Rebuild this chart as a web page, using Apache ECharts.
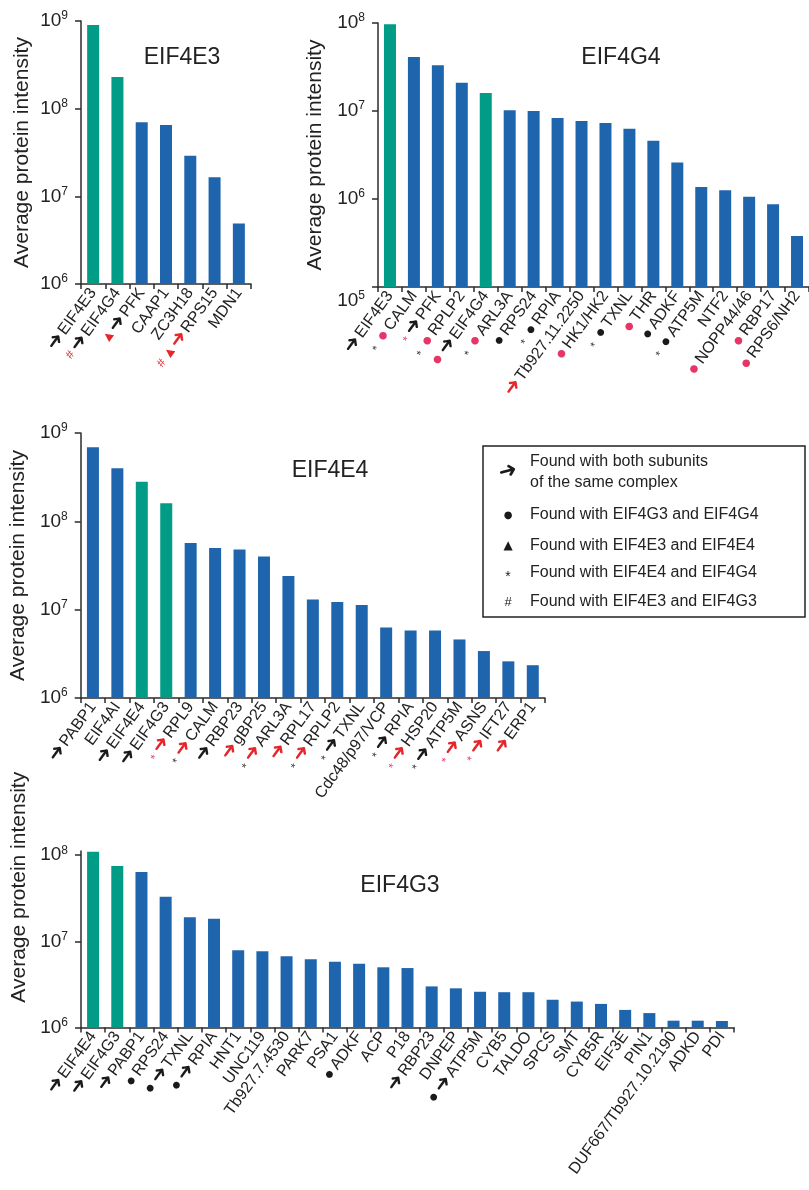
<!DOCTYPE html>
<html>
<head>
<meta charset="utf-8">
<script src="https://cdn.jsdelivr.net/npm/echarts@6/dist/echarts.min.js"></script>
<style>
  html, body { margin: 0; padding: 0; background: #fff; }
  #chart { width: 809px; height: 1190px; }
</style>
</head>
<body>
<div id="chart"></div>
<script>
// ---- EIF4E3 pull-down ----
const e3Cats  = ['EIF4E3', 'EIF4G4', 'PFK', 'CAAP1', 'ZC3H18', 'RPS15', 'MDN1'];
const e3Vals  = [9.0e8, 2.3e8, 7.0e7, 6.5e7, 2.9e7, 1.65e7, 4.9e6];
const e3Baits = ['EIF4E3', 'EIF4G4'];
const e3Marks = ['aK', 'hR aK', 'tR aK', '', '', 'hR tR aR', ''];

// ---- EIF4G4 pull-down ----
const g4Cats  = ['EIF4E3', 'CALM', 'PFK', 'RPLP2', 'EIF4G4', 'ARL3A', 'RPS24', 'RPIA',
                 'Tb927.11.2250', 'HK1/HK2', 'TXNL', 'THR', 'ADKF', 'ATP5M', 'NTF2',
                 'NOPP44/46', 'RBP17', 'RPS6/NH2'];
const g4Vals  = [9.7e7, 4.1e7, 3.3e7, 2.1e7, 1.6e7, 1.02e7, 1.0e7, 8.3e6,
                 7.7e6, 7.3e6, 6.3e6, 4.6e6, 2.6e6, 1.37e6, 1.26e6,
                 1.06e6, 8.7e5, 3.8e5];
const g4Baits = ['EIF4E3', 'EIF4G4'];
const g4Marks = ['aK', 'sK dP', 'sR aK', 'sK dP', 'dP aK', 'sK dP', 'dK', 'sK dK',
                 'aR', 'dP', 'sK dK', 'dP', 'dK', 'sK dK', '',
                 'dP', 'dP', 'dP'];

// ---- EIF4E4 pull-down ----
const e4Cats  = ['PABP1', 'EIF4AI', 'EIF4E4', 'EIF4G3', 'RPL9', 'CALM', 'RBP23', 'gBP25',
                 'ARL3A', 'RPL17', 'RPLP2', 'TXNL', 'Cdc48/p97/VCP', 'RPIA', 'HSP20',
                 'ATP5M', 'ASNS', 'IFT27', 'ERP1'];
const e4Vals  = [6.9e8, 4.0e8, 2.8e8, 1.6e8, 5.7e7, 5.0e7, 4.8e7, 4.0e7,
                 2.4e7, 1.3e7, 1.22e7, 1.13e7, 6.3e6, 5.8e6, 5.8e6,
                 4.6e6, 3.4e6, 2.6e6, 2.35e6];
const e4Baits = ['EIF4E4', 'EIF4G3'];
const e4Marks = ['aK', '', 'aK', 'aK', 'sR aR', 'sK aR', 'aK', 'aR',
                 'sK aR', 'aR', 'sK aR', 'sK aK', '', 'sK aK', 'sR aR',
                 'sK aK', 'sR aR', 'sR aR', 'aR'];

// ---- EIF4G3 pull-down ----
const g3Cats  = ['EIF4E4', 'EIF4G3', 'PABP1', 'RPS24', 'TXNL', 'RPIA', 'HNT1', 'UNC119',
                 'Tb927.7.4530', 'PARK7', 'PSA1', 'ADKF', 'ACP', 'P18', 'RBP23', 'DNPEP',
                 'ATP5M', 'CYB5', 'TALDO', 'SPCS', 'SMT', 'CYB5R', 'EIF3E', 'PIN1',
                 'DUF667/Tb927.10.2190', 'ADKD', 'PDI'];
const g3Vals  = [1.1e8, 7.5e7, 6.4e7, 3.3e7, 1.9e7, 1.83e7, 7.9e6, 7.7e6,
                 6.7e6, 6.2e6, 5.8e6, 5.5e6, 5.0e6, 4.9e6, 3.0e6, 2.85e6,
                 2.6e6, 2.57e6, 2.57e6, 2.1e6, 2.0e6, 1.88e6, 1.6e6, 1.47e6,
                 1.2e6, 1.2e6, 1.19e6];
const g3Baits = ['EIF4E4', 'EIF4G3'];
const g3Marks = ['aK', 'aK', 'aK', 'dK', 'dK aK', 'dK aK', '', '',
                 '', '', '', 'dK', '', '', 'aK', '',
                 'dK aK', '', '', '', '', '', '', '',
                 '', '', ''];

// Legend entries (glyph code, text lines)
const legendItems = [
  ['aK', ['Found with both subunits', 'of the same complex']],
  ['dK', ['Found with EIF4G3 and EIF4G4']],
  ['tK', ['Found with EIF4E3 and EIF4E4']],
  ['sK', ['Found with EIF4E4 and EIF4G4']],
  ['hK', ['Found with EIF4E3 and EIF4G3']]
];

const TEAL = '#009c85';
const BLUE = '#1f65ad';
const RED  = '#e5262b';
const PINK = '#e63668';
const INK  = '#1a1a1a';
const AXIS = '#2b2b2b';
const SANS = 'Liberation Sans, Arial, Helvetica, sans-serif';

const GLYPH = { aK: '➜', aR: '➜', dK: '●', dP: '●', sK: '*', sR: '*', tR: '▲', hR: '#', tK: '▲', hK: '#' };

// rich styles for the marker glyphs drawn in front of the protein names
const labelRich = {
  n:  { fontSize: 16, fontFamily: SANS, color: '#222' },
  aK: { fontSize: 20, fontFamily: 'DejaVu Sans', fontWeight: 'bold', color: INK, padding: [0, 2, 0, 0] },
  aR: { fontSize: 20, fontFamily: 'DejaVu Sans', fontWeight: 'bold', color: RED, padding: [0, 2, 0, 0] },
  dK: { fontSize: 9, fontFamily: 'DejaVu Sans', color: INK, padding: [0, 4, 0, 4] },
  dP: { fontSize: 10, fontFamily: 'DejaVu Sans', color: PINK, padding: [0, 4, 0, 4] },
  sK: { fontSize: 12, fontFamily: SANS, color: '#333', padding: [6, 4, 0, 4] },
  sR: { fontSize: 12, fontFamily: SANS, color: PINK, padding: [6, 4, 0, 4] },
  tR: { fontSize: 11, fontFamily: 'DejaVu Sans', color: RED, padding: [0, 3, 0, 3] },
  hR: { fontSize: 12, fontFamily: SANS, color: RED, padding: [0, 3, 0, 3] }
};

function catFormatter(marks) {
  return function (value, idx) {
    const codes = (marks[idx] || '').split(' ').filter(Boolean);
    return codes.map(c => '{' + c + '|' + GLYPH[c] + '}').join('') + '{n|' + value + '}';
  };
}

function powFormatter(lowShift) {
  return function (v) {
    const e = Math.round(Math.log10(v));
    if (lowShift && e === lowShift) return '{gap| }\n{b|10}{s|' + e + '}';
    return '{b|10}{s|' + e + '}';
  };
}

const powRich = {
  b: { fontSize: 19, fontFamily: SANS, color: '#222', lineHeight: 22 },
  s: { fontSize: 12, fontFamily: SANS, color: '#222', lineHeight: 13, verticalAlign: 'top' },
  gap: { fontSize: 6, lineHeight: 28 }
};

const panels = [
  { cats: e3Cats, vals: e3Vals, baits: e3Baits, marks: e3Marks, min: 1e6, max: 1e9,
    grid: { left: 81, top: 21, width: 170, height: 263 }, nameGap: 48 },
  { cats: g4Cats, vals: g4Vals, baits: g4Baits, marks: g4Marks, min: 1e5, max: 1e8,
    grid: { left: 378, top: 23, width: 440, height: 264 }, nameGap: 52, lowShift: 5 },
  { cats: e4Cats, vals: e4Vals, baits: e4Baits, marks: e4Marks, min: 1e6, max: 1e9,
    grid: { left: 80, top: 433, width: 465, height: 265 }, nameGap: 48 },
  { cats: g3Cats, vals: g3Vals, baits: g3Baits, marks: g3Marks, min: 1e6, max: 1.12e8,
    grid: { left: 81, top: 851, width: 653, height: 176.5 }, nameGap: 48, namePad: 104,
    decades: [1e6, 1e7, 1e8] }
];

const titles = [
  { text: 'EIF4E3', x: 177, y: 41 },
  { text: 'EIF4G4', x: 616, y: 41 },
  { text: 'EIF4E4', x: 325, y: 454 },
  { text: 'EIF4G3', x: 395, y: 869 }
];

const grid = [], xAxis = [], yAxis = [], series = [];
panels.forEach((p, i) => {
  grid.push(Object.assign({ containLabel: false }, p.grid));
  xAxis.push({
    type: 'category', gridIndex: i, data: p.cats,
    axisLine: { lineStyle: { color: AXIS, width: 1.5 } },
    axisTick: { show: true, length: 5, lineStyle: { color: AXIS, width: 1.5 } },
    axisLabel: { interval: 0, rotate: 54, margin: 6, formatter: catFormatter(p.marks), rich: labelRich }
  });
  const y = {
    type: 'log', logBase: 10, gridIndex: i, min: p.min, max: p.max,
    name: 'Average protein intensity', nameLocation: 'middle', nameRotate: 90, nameGap: p.nameGap,
    nameTextStyle: { fontSize: 21, fontFamily: SANS, color: '#222', padding: p.namePad ? [0, 0, 0, p.namePad] : 0 },
    axisLine: { show: true, lineStyle: { color: AXIS, width: 1.5 } },
    axisTick: { show: true, length: 6, lineStyle: { color: AXIS, width: 1.5 } },
    axisLabel: { margin: 13, formatter: powFormatter(p.lowShift), rich: powRich },
    splitLine: { show: false },
    minorTick: { show: false }
  };
  if (p.decades) {
    y.axisTick.customValues = p.decades;
    y.axisLabel.customValues = p.decades;
  }
  yAxis.push(y);
  series.push({
    type: 'bar', xAxisIndex: i, yAxisIndex: i, barWidth: 12,
    data: p.vals.map((v, k) => ({ value: v, itemStyle: { color: p.baits.includes(p.cats[k]) ? TEAL : BLUE } }))
  });
});

// legend box drawn as graphics
const legendGraphic = [{
  type: 'rect', shape: { x: 483, y: 446, width: 322, height: 171 },
  style: { fill: '#fff', stroke: '#222', lineWidth: 1.5 }, z: 10
}];
const legendRows = [472, 515, 546, 573, 602];
legendItems.forEach((item, r) => {
  const [code, lines] = item;
  const y0 = legendRows[r];
  const glyphFont = {
    aK: 'bold 22px DejaVu Sans', dK: '10px DejaVu Sans', tK: '12px DejaVu Sans',
    sK: '14px Liberation Sans', hK: '13px Liberation Sans'
  }[code];
  legendGraphic.push({
    type: 'text', x: 508, y: code === 'sK' ? y0 + 4 : y0, rotation: code === 'aK' ? 0.25 : 0, z: 11,
    style: { text: GLYPH[code], font: glyphFont, fill: INK, align: 'center', verticalAlign: 'middle' }
  });
  lines.forEach((t, li) => {
    const ty = lines.length > 1 ? y0 - 10 + li * 21 : y0;
    legendGraphic.push({
      type: 'text', x: 530, y: ty, z: 11,
      style: { text: t, font: '16px ' + SANS, fill: '#222', align: 'left', verticalAlign: 'middle' }
    });
  });
});

const chart = echarts.init(document.getElementById('chart'), null, { renderer: 'canvas' });
chart.setOption({
  animation: false,
  backgroundColor: '#fff',
  title: titles.map(t => ({
    text: t.text, left: t.x, top: t.y, textAlign: 'center',
    textStyle: { fontSize: 23, fontWeight: 'normal', fontFamily: SANS, color: '#222' }
  })),
  grid, xAxis, yAxis, series,
  graphic: legendGraphic
});
</script>
</body>
</html>
